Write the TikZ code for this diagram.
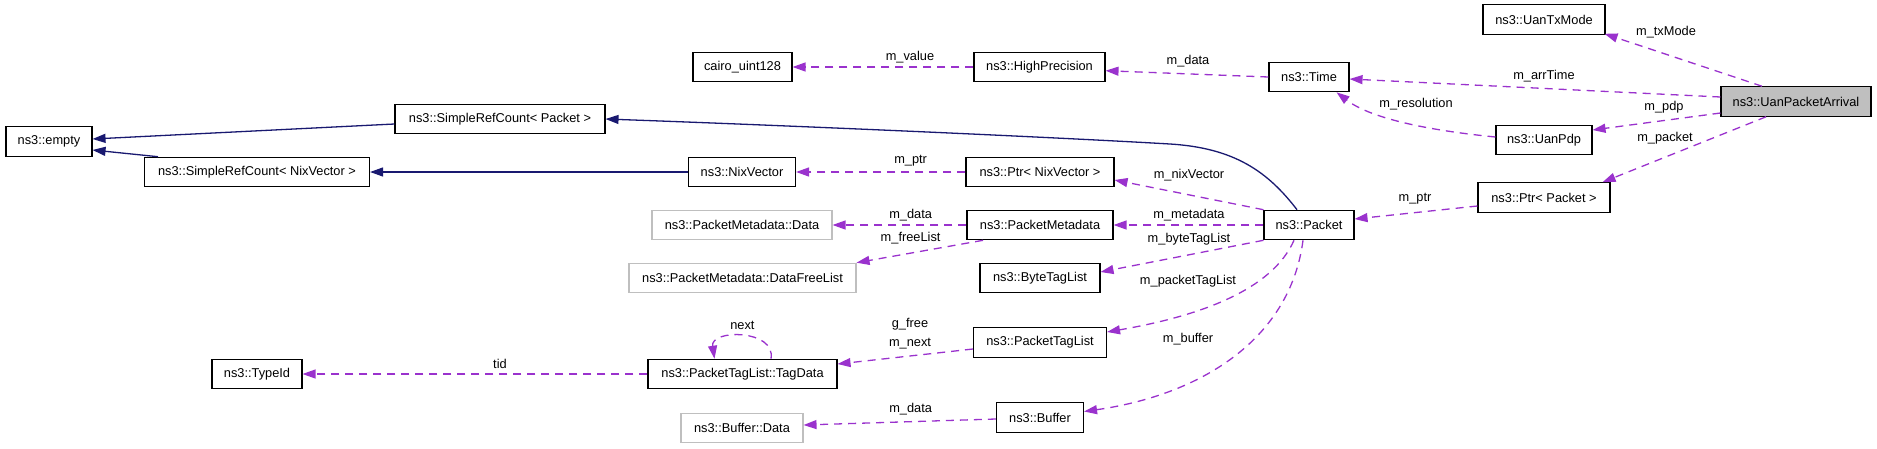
\documentclass[tikz,border=0pt]{standalone}
\usepackage{fontspec}
\setmainfont{Liberation Sans}
\usetikzlibrary{arrows.meta}
\definecolor{orchid}{HTML}{9A32CD}
\definecolor{navy}{HTML}{191970}
\definecolor{greyline}{HTML}{BFBFBF}
\begin{document}
\begin{tikzpicture}[x=1pt,y=-1pt,
  box/.style={draw=black, line width=1.1pt, minimum height=29.5pt, inner sep=0pt, font=\fontsize{12.8pt}{15pt}\selectfont, text=black},
  gbox/.style={box, draw=greyline},
  lbl/.style={inner sep=0pt, font=\fontsize{12.8pt}{15pt}\selectfont},
  uses/.style={draw=orchid, line width=1.3pt, dash pattern=on 8pt off 6pt, -{Triangle[length=13pt,width=9pt]}},
  inh/.style={draw=navy, line width=1.3pt, -{Triangle[length=13pt,width=9pt]}}]
\useasboundingbox (0,0) rectangle (1877,448);
% nodes
\node[box, minimum width=86pt] (empty) at (49,141.5) {ns3::empty};
\node[box, minimum width=210pt] (srcP) at (500,119) {ns3::SimpleRefCount< Packet >};
\node[box, minimum width=225pt] (srcN) at (257,172) {ns3::SimpleRefCount< NixVector >};
\node[box, minimum width=99pt] (cairo) at (742.5,67) {cairo\_uint128};
\node[box, minimum width=131pt] (hp) at (1039.5,67) {ns3::HighPrecision};
\node[box, minimum width=80pt] (time) at (1309,77) {ns3::Time};
\node[box, minimum width=122pt] (txmode) at (1544,19.5) {ns3::UanTxMode};
\node[box, minimum width=150pt, fill=greyline] (uap) at (1796,101.5) {ns3::UanPacketArrival};
\node[box, minimum width=96pt] (pdp) at (1544,140) {ns3::UanPdp};
\node[box, minimum width=132pt] (ptrP) at (1544,197.5) {ns3::Ptr< Packet >};
\node[box, minimum width=107pt] (nix) at (742,172) {ns3::NixVector};
\node[box, minimum width=148pt] (ptrN) at (1040,172) {ns3::Ptr< NixVector >};
\node[gbox, minimum width=180pt] (pmd) at (742,225) {ns3::PacketMetadata::Data};
\node[box, minimum width=146pt] (pm) at (1040,225) {ns3::PacketMetadata};
\node[gbox, minimum width=227pt] (dfl) at (742.5,278) {ns3::PacketMetadata::DataFreeList};
\node[box, minimum width=120pt] (btl) at (1040,278) {ns3::ByteTagList};
\node[box, minimum width=90pt] (packet) at (1309,225) {ns3::Packet};
\node[box, minimum width=133pt] (ptl) at (1040,342.5) {ns3::PacketTagList};
\node[box, minimum width=189pt] (tagdata) at (742.5,374) {ns3::PacketTagList::TagData};
\node[box, minimum width=90pt] (typeid) at (257,374) {ns3::TypeId};
\node[gbox, minimum width=122pt] (bufdata) at (742,428) {ns3::Buffer::Data};
\node[box, minimum width=87pt] (buffer) at (1040,417.5) {ns3::Buffer};
% inheritance
\draw[inh] ([yshift=-5pt]srcP.west) -- ([yshift=2.5pt]empty.east);
\draw[inh] ([xshift=-99pt]srcN.north) -- ([yshift=-8.5pt]empty.east);
\draw[inh] (nix.west) -- (srcN.east);
\draw[inh] ([xshift=-12pt]packet.north) .. controls (1268,172) and (1235,148) .. (1170,144) .. controls (1050,137) and (800,126) .. (srcP.east);
% usage
\draw[uses] ([xshift=-34pt]uap.north) -- ([xshift=-1pt,yshift=1pt]txmode.south east);
\draw[uses] ([yshift=4.5pt]uap.west) -- ([yshift=-2pt]time.east);
\draw[uses] ([yshift=-11.5pt]uap.west) -- ([yshift=10pt]pdp.east);
\draw[uses] ([xshift=-30pt]uap.south) -- ([xshift=-8pt]ptrP.north east);
\draw[uses] ([yshift=3pt]pdp.west) .. controls (1425,130) and (1370,118) .. ([xshift=-13pt]time.south east);
\draw[uses] (time.west) -- ([yshift=-3.7pt]hp.east);
\draw[uses] (hp.west) -- (cairo.east);
\draw[uses] ([yshift=-8.5pt]ptrP.west) -- ([yshift=6pt]packet.east);
\draw[uses] (packet.north west) -- ([yshift=-8pt]ptrN.east);
\draw[uses] (packet.west) -- (pm.east);
\draw[uses] (packet.south west) -- ([yshift=6pt]btl.east);
\draw[uses] ([xshift=-15pt]packet.south) .. controls (1272,290) and (1200,316) .. ([yshift=10.5pt]ptl.east);
\draw[uses] ([xshift=-6pt]packet.south) .. controls (1290,340) and (1200,395) .. ([yshift=6pt]buffer.east);
\draw[uses] (ptrN.west) -- (nix.east);
\draw[uses] (pm.west) -- (pmd.east);
\draw[uses] ([xshift=-57pt]pm.south) -- (dfl.north east);
\draw[uses] ([yshift=-6.5pt]ptl.west) -- ([yshift=10pt]tagdata.east);
\draw[uses] ([xshift=28.5pt]tagdata.north) .. controls (776,329) and (710,329) .. ([xshift=-28pt]tagdata.north);
\draw[uses] (tagdata.west) -- (typeid.east);
\draw[uses] ([yshift=-1.5pt]buffer.west) -- ([yshift=3pt]bufdata.east);
% labels
\node[lbl] (l1) at (1666,32) {m\_txMode};
\node[lbl] (l2) at (1544,76) {m\_arrTime};
\node[lbl] (l3) at (1664,107) {m\_pdp};
\node[lbl] (l4) at (1665,138) {m\_packet};
\node[lbl] (l5) at (1416,104) {m\_resolution};
\node[lbl] (l6) at (1188,61) {m\_data};
\node[lbl] (l7) at (910,57) {m\_value};
\node[lbl] (l8) at (1415,199) {m\_ptr};
\node[lbl] (l9) at (1189,175) {m\_nixVector};
\node[lbl] (l10) at (1189,215) {m\_metadata};
\node[lbl] (l11) at (1189,239) {m\_byteTagList};
\node[lbl] (l12) at (1188,281) {m\_packetTagList};
\node[lbl] (l13) at (1188,339) {m\_buffer};
\node[lbl] (l14) at (910.6,161) {m\_ptr};
\node[lbl] (l15) at (910.6,215) {m\_data};
\node[lbl] (l16) at (910.6,238) {m\_freeList};
\node[lbl, align=center, font=\fontsize{12.8pt}{19pt}\selectfont] (l17) at (910,333.5) {g\_free\\m\_next};
\node[lbl] (l18) at (742.4,325) {next};
\node[lbl] (l19) at (500,364) {tid};
\node[lbl] (l20) at (910.6,409) {m\_data};
\end{tikzpicture}
\end{document}
